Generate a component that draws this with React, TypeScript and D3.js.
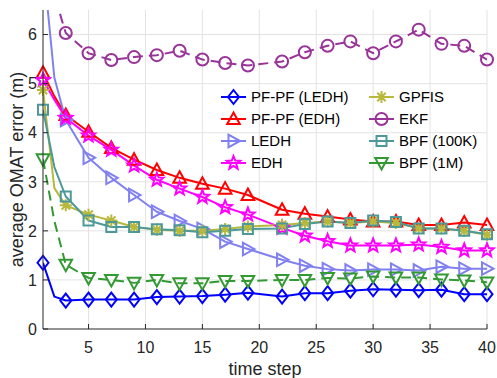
import * as d3 from "d3";

// time steps that carry a data point (markers at every step except 2)
const steps = [1, 2, 3, 5, 7, 9, 11, 13, 15, 17, 19, 22, 24, 26, 28, 30, 32, 34, 36, 38, 40];
const markerSteps = [1, 3, 5, 7, 9, 11, 13, 15, 17, 19, 22, 24, 26, 28, 30, 32, 34, 36, 38, 40];

const pfpfLedh = [1.35, 0.66, 0.58, 0.6, 0.6, 0.6, 0.65, 0.66, 0.67, 0.7, 0.74, 0.66, 0.73, 0.73, 0.78, 0.81, 0.8, 0.79, 0.8, 0.71, 0.71];
const pfpfEdh = [5.22, 4.74, 4.36, 4.02, 3.69, 3.45, 3.24, 3.08, 2.96, 2.86, 2.73, 2.43, 2.35, 2.29, 2.23, 2.19, 2.19, 2.12, 2.12, 2.17, 2.12];
const ledh = [7.5, 5.12, 4.26, 3.49, 3.08, 2.73, 2.39, 2.2, 2.04, 1.78, 1.63, 1.41, 1.29, 1.22, 1.19, 1.21, 1.21, 1.19, 1.27, 1.23, 1.23];
const edh = [5.07, 4.67, 4.3, 3.94, 3.65, 3.33, 3.04, 2.86, 2.69, 2.48, 2.33, 2.06, 1.9, 1.79, 1.7, 1.7, 1.7, 1.72, 1.67, 1.6, 1.6];
const gpfis = [4.87, 2.87, 2.52, 2.33, 2.21, 2.08, 2.02, 2.0, 2.0, 2.04, 2.09, 2.12, 2.16, 2.19, 2.16, 2.19, 2.16, 2.05, 2.05, 2.0, 1.92];
const ekf = [9.0, 6.8, 6.03, 5.62, 5.48, 5.54, 5.58, 5.67, 5.49, 5.42, 5.37, 5.45, 5.64, 5.77, 5.86, 5.62, 5.86, 6.1, 5.81, 5.77, 5.49];
const bpf100k = [4.47, 3.3, 2.7, 2.21, 2.08, 2.08, 2.03, 2.01, 1.97, 2.0, 2.04, 2.05, 2.14, 2.19, 2.16, 2.21, 2.18, 2.05, 2.05, 2.0, 1.93];
const bpf1m = [3.46, 2.2, 1.31, 1.04, 1.0, 0.94, 1.0, 0.93, 0.93, 0.98, 0.98, 1.0, 1.0, 1.04, 1.03, 1.07, 1.05, 1.05, 1.01, 0.99, 0.95];

const xTicks = [5, 10, 15, 20, 25, 30, 35, 40];
const yTicks = [0, 1, 2, 3, 4, 5, 6];

type Marker = "diamond" | "up" | "right" | "star" | "asterisk" | "circle" | "square" | "down";

const series: { name: string; values: number[]; color: string; marker: Marker; dashed?: boolean }[] = [
  { name: "PF-PF (LEDH)", values: pfpfLedh, color: "#0000ff", marker: "diamond" },
  { name: "PF-PF (EDH)", values: pfpfEdh, color: "#ff0000", marker: "up" },
  { name: "LEDH", values: ledh, color: "#8080f0", marker: "right" },
  { name: "EDH", values: edh, color: "#ff00ff", marker: "star" },
  { name: "GPFIS", values: gpfis, color: "#b8b83c", marker: "asterisk" },
  { name: "EKF", values: ekf, color: "#993399", marker: "circle", dashed: true },
  { name: "BPF (100K)", values: bpf100k, color: "#4d9999", marker: "square" },
  { name: "BPF (1M)", values: bpf1m, color: "#339933", marker: "down", dashed: true },
];

function starPath(ro: number, ri: number) {
  const pts: string[] = [];
  for (let i = 0; i < 10; i++) {
    const r = i % 2 === 0 ? ro : ri;
    const a = -Math.PI / 2 + (i * Math.PI) / 5;
    pts.push(`${(r * Math.cos(a)).toFixed(2)},${(r * Math.sin(a)).toFixed(2)}`);
  }
  return "M" + pts.join("L") + "Z";
}

const markerPaths: Record<Marker, string> = {
  diamond: "M0,-7L5.5,0L0,7L-5.5,0Z",
  up: "M0,-6.5L6.3,5L-6.3,5Z",
  right: "M6.5,0L-5,-6.3L-5,6.3Z",
  down: "M0,6.5L6.3,-5L-6.3,-5Z",
  square: "M-5,-5H5V5H-5Z",
  circle: "M6,0A6,6 0 1,1 -6,0A6,6 0 1,1 6,0Z",
  star: starPath(7, 3),
  asterisk: "M-6,0H6M0,-6V6M-4.2,-4.2L4.2,4.2M-4.2,4.2L4.2,-4.2",
};

const font = "'Liberation Sans', Arial, Helvetica, sans-serif";
const axisColor = "#262626";

export default function App() {
  const width = 497;
  const height = 378;
  const left = 43;
  const right = 487;
  const top = 10;
  const bottom = 329;

  const x = d3.scaleLinear().domain([1, 40]).range([left, right]);
  const y = d3.scaleLinear().domain([0, 6.5]).range([bottom, top]);

  const line = d3
    .line<number>()
    .x((_, i) => x(steps[i]))
    .y((d) => y(d));

  const legendRows = [97, 119, 141, 163];
  const legendCols = [{ x1: 221, x2: 246, tx: 251 }, { x1: 369, x2: 394, tx: 399 }];

  return (
    <svg width={width} height={height} style={{ position: "absolute", left: 0, top: 0 }} fontFamily={font}>
      <rect width={width} height={height} fill="#fff" />
      <defs>
        <clipPath id="plot">
          <rect x={left} y={top} width={right - left} height={bottom - top} />
        </clipPath>
      </defs>

      {/* grid */}
      {xTicks.map((t) => (
        <line key={"gx" + t} x1={x(t)} x2={x(t)} y1={top} y2={bottom} stroke="#e3e3e3" strokeWidth={1} />
      ))}
      {yTicks.slice(1).map((t) => (
        <line key={"gy" + t} x1={left} x2={right} y1={y(t)} y2={y(t)} stroke="#e3e3e3" strokeWidth={1} />
      ))}

      {/* lines */}
      <g clipPath="url(#plot)">
        {series.map((s) => (
          <path
            key={s.name}
            d={line(s.values) ?? ""}
            fill="none"
            stroke={s.color}
            strokeWidth={2}
            strokeDasharray={s.dashed ? "10,6" : undefined}
            strokeLinejoin="round"
          />
        ))}
      </g>

      {/* markers */}
      {series.map((s) => (
        <g key={s.name + "m"}>
          {steps.map((st, i) =>
            markerSteps.includes(st) && s.values[i] <= 6.5 ? (
              <path
                key={st}
                d={markerPaths[s.marker]}
                transform={`translate(${x(st)},${y(s.values[i])})`}
                fill="none"
                stroke={s.color}
                strokeWidth={2}
                strokeLinejoin="miter"
              />
            ) : null
          )}
        </g>
      ))}

      {/* axes */}
      <line x1={left} x2={left} y1={top} y2={bottom} stroke={axisColor} strokeWidth={1} />
      <line x1={left} x2={right} y1={bottom} y2={bottom} stroke={axisColor} strokeWidth={1} />
      {xTicks.map((t) => (
        <g key={"tx" + t}>
          <line x1={x(t)} x2={x(t)} y1={bottom} y2={bottom - 5} stroke={axisColor} />
          <text x={x(t)} y={353} textAnchor="middle" fontSize={16} fill={axisColor}>
            {t}
          </text>
        </g>
      ))}
      {yTicks.map((t) => (
        <g key={"ty" + t}>
          <line x1={left} x2={left + 5} y1={y(t)} y2={y(t)} stroke={axisColor} />
          <text x={37} y={y(t)} dy="0.36em" textAnchor="end" fontSize={16} fill={axisColor}>
            {t}
          </text>
        </g>
      ))}
      <text x={(left + right) / 2} y={375} textAnchor="middle" fontSize={18} fill={axisColor}>
        time step
      </text>
      <text
        transform={`translate(23,${(top + bottom) / 2}) rotate(-90)`}
        textAnchor="middle"
        fontSize={18}
        fill={axisColor}
      >
        average OMAT error (m)
      </text>

      {/* legend */}
      {series.map((s, i) => {
        const col = legendCols[Math.floor(i / 4)];
        const ry = legendRows[i % 4];
        return (
          <g key={s.name + "l"}>
            <line
              x1={col.x1}
              x2={col.x2}
              y1={ry}
              y2={ry}
              stroke={s.color}
              strokeWidth={2}
            />
            <path
              d={markerPaths[s.marker]}
              transform={`translate(${(col.x1 + col.x2) / 2},${ry})`}
              fill="none"
              stroke={s.color}
              strokeWidth={2}
            />
            <text x={col.tx} y={ry} dy="0.36em" fontSize={15} fill="#000">
              {s.name}
            </text>
          </g>
        );
      })}
    </svg>
  );
}
